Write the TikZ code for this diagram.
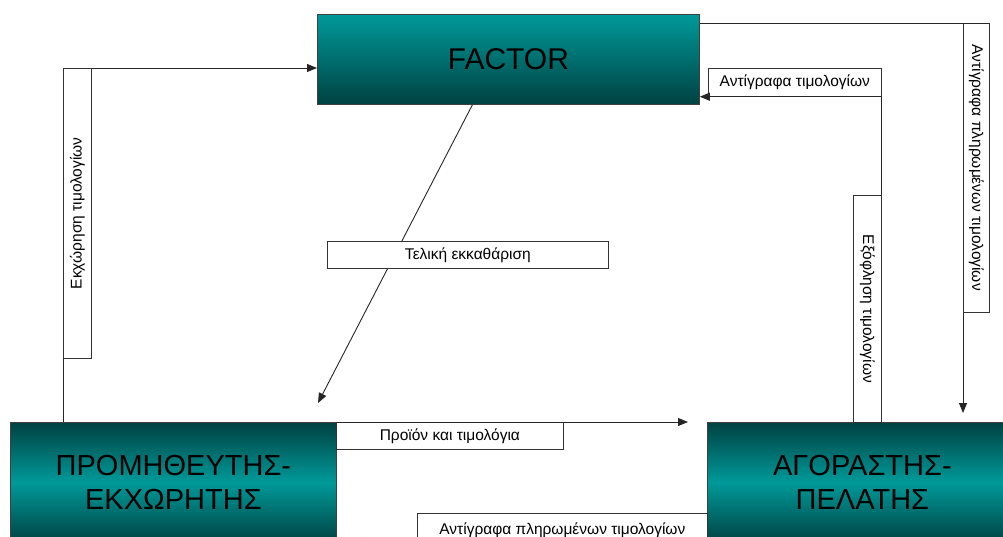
\documentclass[tikz,border=0pt]{standalone}
\usepackage{fontspec}
\setmainfont{Liberation Sans}
\usetikzlibrary{arrows.meta,calc}
\definecolor{tealhi}{RGB}{0,153,153}
\definecolor{teallo}{RGB}{0,66,66}
\begin{document}
\begin{tikzpicture}[x=1pt,y=-1pt,
  party/.style={draw=black!75, line width=0.8pt, inner sep=0pt, anchor=north west,
    font=\fontsize{29}{34}\selectfont, align=center},
  topparty/.style={party, top color=tealhi, bottom color=teallo},
  lowparty/.style={party, top color=teallo, bottom color=teallo, middle color=tealhi},
  tag/.style={draw=black!80, fill=white, line width=0.7pt, inner sep=0pt, anchor=north west,
    font=\fontsize{15.5}{18}\selectfont},
  flow/.style={draw=black!85, line width=0.9pt},
  arr/.style={flow, -{Triangle[length=10pt,width=8pt]}}
]
\useasboundingbox (0,0) rectangle (1003,536);
\clip (0,0) rectangle (1003,536);

% the three parties
\node[topparty, minimum width=382pt, minimum height=90pt, font=\fontsize{30}{34}\selectfont]
  (fac) at (317,14) {FACTOR};
\node[lowparty, minimum width=326pt, minimum height=120pt] (sup) at (10,422)
  {ΠΡΟΜΗΘΕΥΤΗΣ-\\ΕΚΧΩΡΗΤΗΣ};
\node[lowparty, minimum width=310pt, minimum height=120pt] (cus) at (707,422)
  {ΑΓΟΡΑΣΤΗΣ-\\ΠΕΛΑΤΗΣ};

% final clearing: factor to supplier
\coordinate (clearEnd) at (318,403);
\draw[arr] ($(fac.south)+(-36,0)$) -- (clearEnd);

% flow labels
\node[tag, minimum width=28pt, minimum height=290pt] (L1) at (63,68)
  {\rotatebox{90}{Εκχώρηση τιμολογίων}};
\node[tag, minimum width=173pt, minimum height=28pt] (L2) at (708,68)
  {Αντίγραφα τιμολογίων};
\node[tag, minimum width=26pt, minimum height=289pt] (L3) at (963,23)
  {\rotatebox{-90}{Αντίγραφα πληρωμένων τιμολογίων}};
\node[tag, minimum width=28pt, minimum height=227pt] (L4) at (853,195)
  {\rotatebox{-90}{Εξόφληση τιμολογίων}};
\node[tag, minimum width=281pt, minimum height=27pt] (L5) at (327,241)
  {Τελική εκκαθάριση};
\node[tag, minimum width=227pt, minimum height=27pt] (L6) at (336,422)
  {Προϊόν και τιμολόγια};
\node[tag, minimum width=290pt, minimum height=34pt] (L7) at (417,513)
  {Αντίγραφα πληρωμένων τιμολογίων};

% assignment of invoices: supplier to factor
\draw[flow] (sup.north -| L1.south west) -- (L1.south west);
\draw[arr] (L1.north east) -- (L1.north east -| fac.west);

% copies of invoices: customer to factor
\draw[flow] (L4.north east) -- (L2.south east);
\draw[arr] (L2.south east) -- (L2.south east -| fac.east);

% copies of paid invoices: factor to customer
\draw[flow] (fac.east |- L3.north east) -- (L3.north east);
\draw[arr, shorten >=9pt] (L3.south west) -- (L3.south west |- cus.north);

% goods and invoices: supplier to customer
\draw[arr, shorten >=19pt] (sup.north east) -- (cus.north west);

% copies of paid invoices: customer back to supplier
\coordinate (backEnd) at (352,541);
\draw[arr] (L7.west |- backEnd) -- (backEnd);
\end{tikzpicture}
\end{document}
